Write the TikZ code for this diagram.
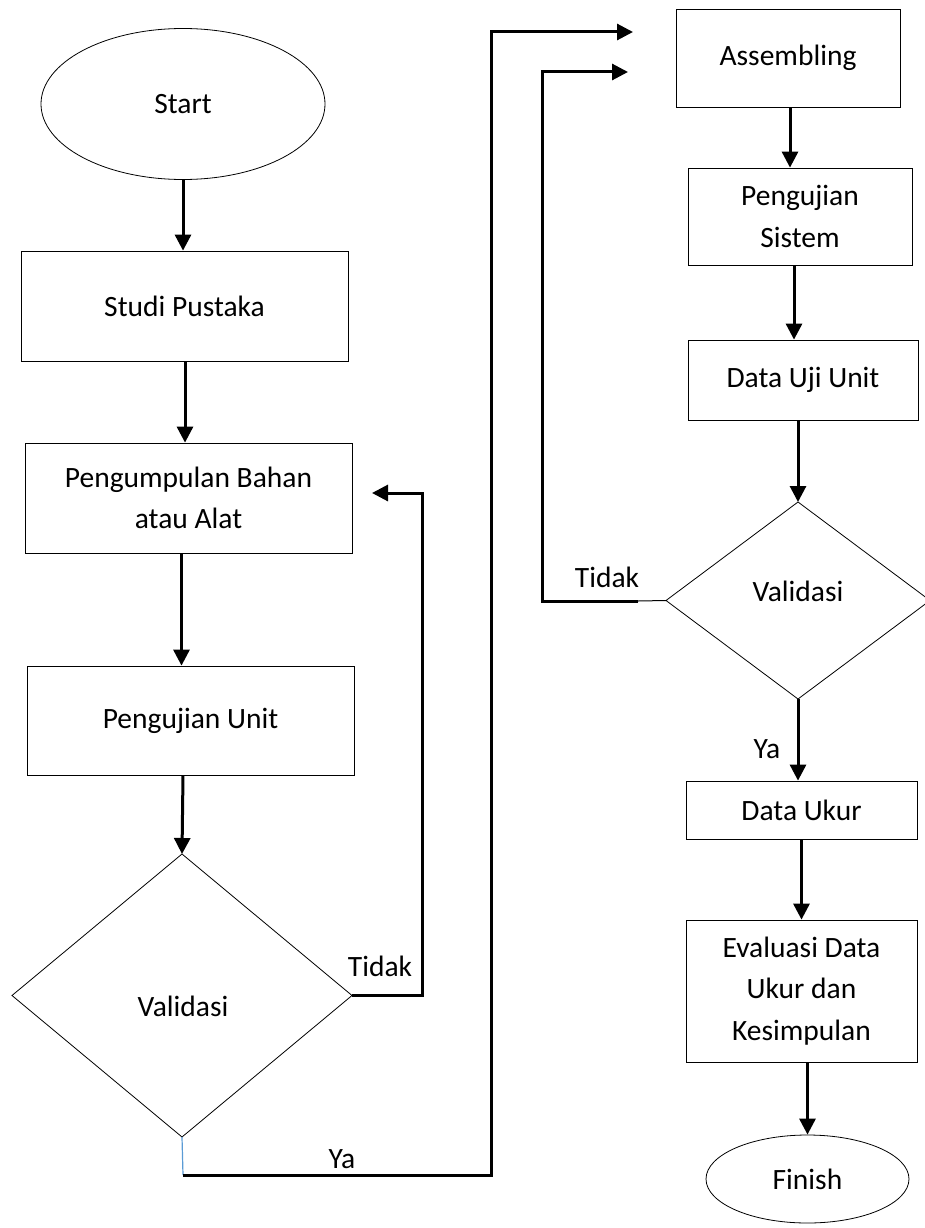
\documentclass[tikz,border=0pt]{standalone}
\usepackage{fontspec}
\setmainfont{Carlito}
\usetikzlibrary{shapes.geometric,arrows.meta}
\definecolor{lineblue}{RGB}{91,155,213}
\begin{document}
\begin{tikzpicture}[x=1pt,y=-1pt,
  txt/.style={font=\fontsize{29.5}{41.5}\selectfont, align=center, inner sep=0pt},
  box/.style={txt, draw, line width=0.8pt, rectangle},
  term/.style={txt, draw, line width=0.8pt, ellipse},
  dia/.style={draw, line width=0.8pt, diamond, inner sep=0pt, outer sep=0pt},
  arr/.style={line width=3pt, -{Triangle[length=16pt,width=16pt]}},
  thinline/.style={line width=1pt}
]
\useasboundingbox (0,0) rectangle (924,1228);

% left column
\node[term, minimum width=284pt, minimum height=151pt] (start) at (183,104) {Start};
\node[box, minimum width=327pt, minimum height=110pt] (studi) at (184.5,306) {Studi Pustaka};
\node[box, minimum width=327pt, minimum height=110pt] (kumpul) at (188.5,498) {Pengumpulan Bahan\\atau Alat};
\node[box, minimum width=327pt, minimum height=109pt] (unit) at (190.5,720.5) {Pengujian Unit};
\node[dia, minimum width=340pt, minimum height=283pt] (val1) at (182,995.5) {};
\node[txt] (val1t) at (183,1006) {Validasi};

% right column
\node[box, minimum width=224pt, minimum height=98pt] (asm) at (788,58) {Assembling};
\node[box, minimum width=224pt, minimum height=97pt] (sis) at (800,216.5) {Pengujian\\Sistem};
\node[box, minimum width=230pt, minimum height=80pt] (uji) at (803,380) {Data Uji Unit};
\node[dia, minimum width=264pt, minimum height=197pt] (val2) at (798,600.5) {};
\node[txt] (val2t) at (798,591) {Validasi};
\node[box, minimum width=231pt, minimum height=58pt] (ukur) at (801.5,810) {Data Ukur};
\node[box, minimum width=231pt, minimum height=142pt] (eval) at (801.5,991) {Evaluasi Data\\Ukur dan\\Kesimpulan};
\node[term, minimum width=203pt, minimum height=88pt] (finish) at (807.5,1179) {Finish};

% labels
\node[txt] (tidak1) at (380,966) {Tidak};
\node[txt] (ya1) at (342,1159) {Ya};
\node[txt] (tidak2) at (607,577) {Tidak};
\node[txt] (ya2) at (767,749) {Ya};

% free ends
\coordinate (t1end) at (372,493);
\coordinate (yacorner) at (183,1175);
\coordinate (yaend) at (633,32);
\coordinate (t2a) at (638,601);
\coordinate (t2end) at (628,72);

% vertical flow
\draw[arr] (start.south) -- (start.south |- studi.north);
\draw[arr] ([xshift=0.5pt]studi.south) -- ([xshift=0.5pt]studi.south |- kumpul.north);
\draw[arr] ([xshift=-7pt]kumpul.south) -- ([xshift=-7pt]kumpul.south |- unit.north);
\draw[arr] ([xshift=-7.5pt]unit.south) -- (val1.north);
\draw[arr] ([xshift=2pt]asm.south) -- ([xshift=2pt]asm.south |- sis.north);
\draw[arr] ([xshift=-6pt]sis.south) -- ([xshift=-6pt]sis.south |- uji.north);
\draw[arr] (uji.south -| val2.north) -- (val2.north);
\draw[arr] (val2.south) -- (val2.south |- ukur.north);
\draw[arr] (ukur.south) -- (ukur.south |- eval.north);
\draw[arr] (eval.south -| finish.north) -- (finish.north);

% loops
\draw[arr] (val1.east) -- ++(70,0) |- (t1end);
\draw[lineblue, line width=1.2pt] (val1.south) -- (yacorner);
\draw[arr] (yacorner) -- ++(308,0) |- (yaend);
\draw[thinline] (val2.west) -- (t2a);
\draw[arr] (t2a) -- ++(-96,0) |- (t2end);
\end{tikzpicture}
\end{document}
